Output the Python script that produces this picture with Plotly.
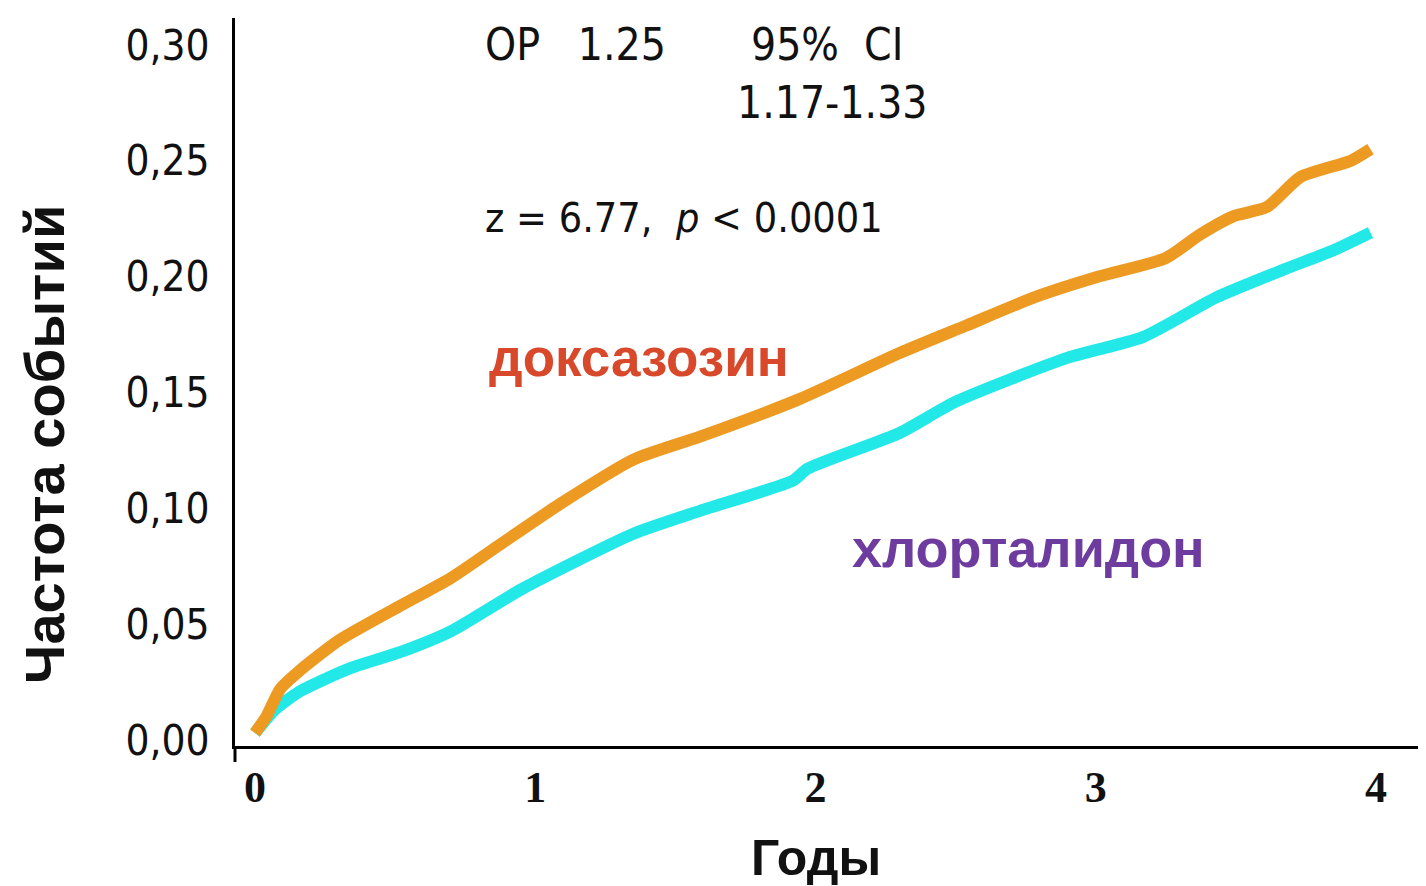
import plotly.graph_objects as go

# Data
dox_t = [0.0, 0.04, 0.09, 0.16, 0.30, 0.52, 0.70, 0.87, 1.09, 1.35, 1.59, 1.94, 2.30, 2.54, 2.78, 3.01, 3.25, 3.37, 3.49, 3.61, 3.73, 3.91, 3.98]
dox_v = [0.003, 0.010, 0.022, 0.030, 0.043, 0.058, 0.070, 0.084, 0.102, 0.121, 0.131, 0.147, 0.167, 0.179, 0.191, 0.200, 0.208, 0.218, 0.226, 0.230, 0.243, 0.250, 0.255]

chl_t = [0.0, 0.07, 0.16, 0.34, 0.52, 0.70, 0.95, 1.35, 1.59, 1.92, 1.97, 2.30, 2.50, 2.90, 3.17, 3.43, 3.67, 3.85, 3.98]
chl_v = [0.003, 0.013, 0.021, 0.031, 0.038, 0.047, 0.065, 0.089, 0.099, 0.112, 0.117, 0.1325, 0.146, 0.165, 0.174, 0.191, 0.203, 0.2115, 0.219]

x_ticks = [0, 1, 2, 3, 4]
y_ticks = [0.0, 0.05, 0.10, 0.15, 0.20, 0.25, 0.30]
y_ticklabels = ["0,00", "0,05", "0,10", "0,15", "0,20", "0,25", "0,30"]

fig = go.Figure()
fig.add_trace(go.Scatter(x=chl_t, y=chl_v, mode="lines", line=dict(color="#22E8E8", width=12, shape="spline", smoothing=0.6), hoverinfo="skip"))
fig.add_trace(go.Scatter(x=dox_t, y=dox_v, mode="lines", line=dict(color="#EC9A22", width=12, shape="spline", smoothing=0.6), hoverinfo="skip"))

narrow = "Liberation Sans Narrow, Arial Narrow, DejaVu Sans Condensed, sans-serif"
sans = "Liberation Sans, Arial, sans-serif"

fig.update_layout(
    width=1418, height=878,
    margin=dict(l=227, r=0, t=10, b=140),
    paper_bgcolor="white", plot_bgcolor="white",
    showlegend=False,
    xaxis=dict(range=[-0.0714, 4.178], tickvals=x_ticks, ticktext=[str(v) for v in x_ticks],
               showgrid=False, zeroline=False, showline=True, linecolor="black", linewidth=3,
               ticks="", tickfont=dict(family="Liberation Serif, Times New Roman, serif", size=44, color="#111", weight="bold")),
    yaxis=dict(range=[-0.0026, 0.3116], tickvals=y_ticks, ticktext=y_ticklabels,
               showgrid=False, zeroline=False, showline=True, linecolor="black", linewidth=3,
               ticks="", ticklabelstandoff=14,
               tickfont=dict(family=narrow, size=42, color="#111")),
)

# small extension of the y axis below the x axis
fig.add_shape(type="line", xref="paper", yref="paper", x0=0, x1=0, y0=0, y1=-16/728,
              line=dict(color="black", width=3))

ann_font = dict(family=narrow, size=44, color="#111")
fig.add_annotation(x=0.813, y=0.300, xref="x", yref="y", text="OP   1.25", showarrow=False, xanchor="left", yanchor="middle", font=ann_font)
fig.add_annotation(x=2.04, y=0.300, xref="x", yref="y", text="95%  CI", showarrow=False, xanchor="center", yanchor="middle", font=ann_font)
fig.add_annotation(x=2.06, y=0.275, xref="x", yref="y", text="1.17-1.33", showarrow=False, xanchor="center", yanchor="middle", font=ann_font)
fig.add_annotation(x=0.813, y=0.2253, xref="x", yref="y", text="z = 6.77,  <i>p</i> < 0.0001", showarrow=False, xanchor="left", yanchor="middle",
                   font=dict(family=narrow, size=41, color="#111"))

fig.add_annotation(x=0.827, y=0.165, xref="x", yref="y", text="<b>доксазозин</b>", showarrow=False, xanchor="left", yanchor="middle",
                   font=dict(family=sans, size=53, color="#D8482A"))
fig.add_annotation(x=2.123, y=0.0829, xref="x", yref="y", text="<b>хлорталидон</b>", showarrow=False, xanchor="left", yanchor="middle",
                   font=dict(family=sans, size=54, color="#6E3C9E"))

# axis titles
fig.add_annotation(x=2.0, y=0, xref="x", yref="paper", yshift=-112, text="<b>Годы</b>", showarrow=False, xanchor="center", yanchor="middle",
                   font=dict(family=sans, size=50, color="#111"))
fig.add_annotation(x=0, y=0.4135, xref="paper", yref="paper", xshift=-190, text="<b>Частота событий</b>", textangle=-90, showarrow=False,
                   xanchor="center", yanchor="middle", font=dict(family=sans, size=56, color="#111"))

fig.write_html("out.html")
